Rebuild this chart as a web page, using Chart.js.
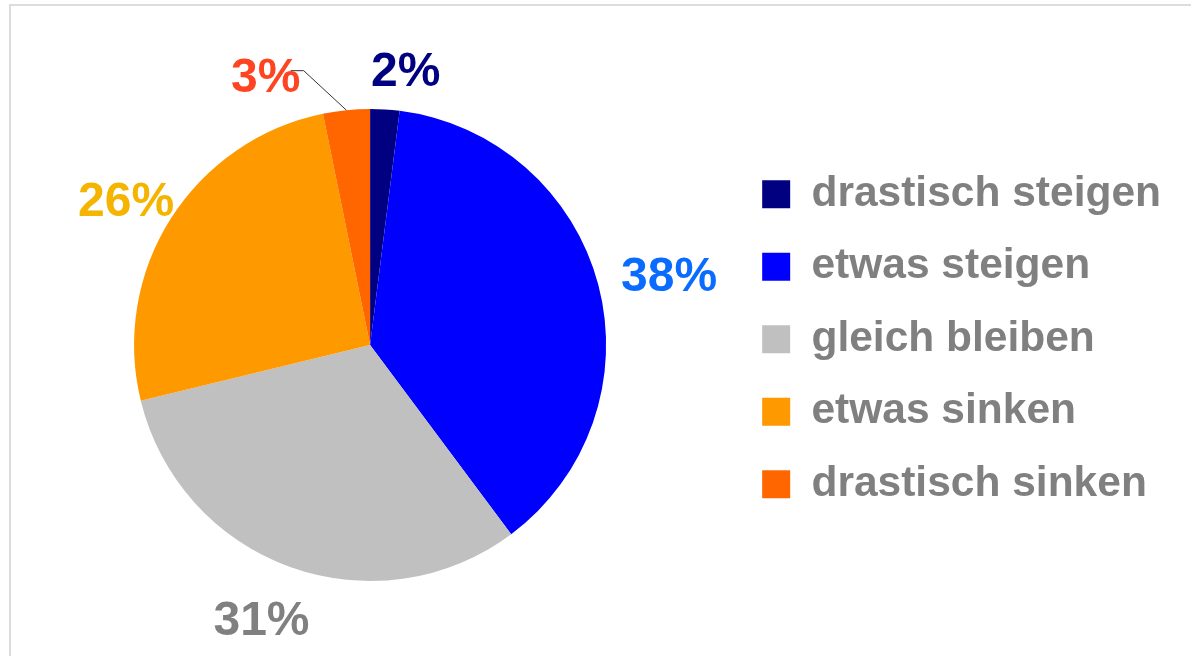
<!DOCTYPE html>
<html>
<head>
<meta charset="utf-8">
<script src="https://cdn.jsdelivr.net/npm/chart.js@4/dist/chart.umd.min.js"></script>
<style>
  html, body { margin: 0; padding: 0; background: #fff; overflow: hidden; }
  #frame { position: absolute; left: 9px; top: 4px; width: 1400px; height: 900px; border-top: 2px solid #dcdcdc; border-left: 2px solid #dcdcdc; }
  #wrap { position: absolute; left: 0; top: 0; width: 1191px; height: 656px; }
</style>
</head>
<body>
<div id="frame"></div>
<div id="wrap"><canvas id="chart" width="1191" height="656"></canvas></div>
<script>
// values (percent)
const categories = ['drastisch steigen', 'etwas steigen', 'gleich bleiben', 'etwas sinken', 'drastisch sinken'];
const shares = [2.0, 37.8, 31.4, 25.6, 3.2];
const sliceColors = ['#000080', '#0000ff', '#c0c0c0', '#ff9900', '#ff6600'];
const labelColors = ['#000080', '#0a6cff', '#808080', '#f4b400', '#ff4422'];

// where each percent label sits: nudge from slice middle (deg) and distance in radii
const labelPlace = [
  { turn: 3.8, dist: 1.17 },
  { turn: 1.8, dist: 1.30 },
  { turn: 1.8, dist: 1.25 },
  { turn: -1.9, dist: 1.20 },
  { turn: -15.5, dist: 1.22, leader: true }
];

const pctLabels = {
  id: 'pctLabels',
  afterDatasetsDraw(chart) {
    const ctx = chart.ctx;
    const arcs = chart.getDatasetMeta(0).data;
    ctx.save();
    ctx.font = 'bold 48px "Liberation Sans", Arial, sans-serif';
    ctx.textAlign = 'center';
    ctx.textBaseline = 'middle';
    arcs.forEach((arc, i) => {
      const p = arc.getProps(['x', 'y', 'startAngle', 'endAngle', 'outerRadius'], true);
      const mid = (p.startAngle + p.endAngle) / 2;
      const a = mid + labelPlace[i].turn * Math.PI / 180;
      const r = p.outerRadius * labelPlace[i].dist;
      const lx = p.x + Math.cos(a) * r;
      const ly = p.y + Math.sin(a) * r;
      const txt = Math.round(shares[i]) + '%';
      if (labelPlace[i].leader) {
        const ex = p.x + Math.cos(mid) * p.outerRadius;
        const ey = p.y + Math.sin(mid) * p.outerRadius;
        ctx.strokeStyle = '#333';
        ctx.lineWidth = 1;
        ctx.beginPath();
        ctx.moveTo(lx + 25, ly - 6);
        ctx.lineTo(lx + 38, ly - 6);
        ctx.lineTo(ex, ey);
        ctx.stroke();
      }
      ctx.fillStyle = labelColors[i];
      ctx.fillText(txt, lx, ly + 2);
    });
    ctx.restore();
  }
};

new Chart(document.getElementById('chart'), {
  type: 'pie',
  data: {
    labels: categories,
    datasets: [{
      data: shares,
      backgroundColor: sliceColors,
      borderWidth: 0
    }]
  },
  options: {
    responsive: false,
    animation: false,
    layout: { padding: { top: 109, bottom: 75, left: 8, right: 20 } },
    plugins: {
      tooltip: { enabled: false },
      legend: {
        position: 'right',
        align: 'start',
        // empty title only pushes the first row down
        title: { display: true, text: '', font: { size: 10 }, padding: { top: 22, bottom: 0 } },
        labels: {
          boxWidth: 28,
          boxHeight: 28,
          padding: 30,
          color: '#808080',
          font: { family: '"Liberation Sans", Arial, sans-serif', size: 42.5, weight: 'bold' }
        }
      }
    }
  },
  plugins: [pctLabels]
});
</script>
</body>
</html>
